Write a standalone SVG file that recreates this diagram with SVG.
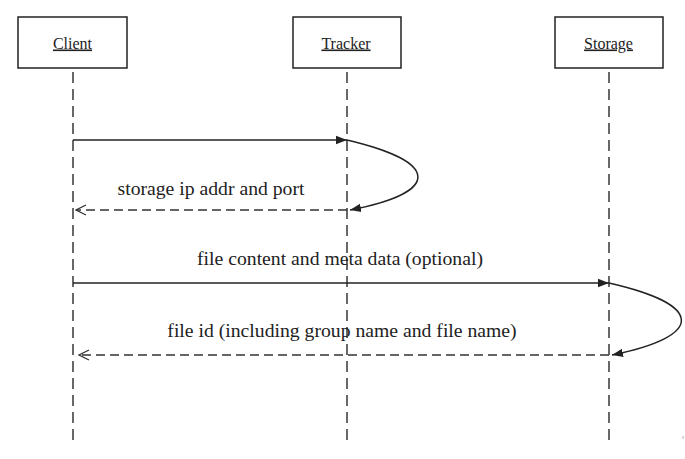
<svg xmlns="http://www.w3.org/2000/svg" width="685" height="459" viewBox="0 0 685 459">
<defs>
<marker id="filled" viewBox="0 0 11 10" refX="11" refY="5" markerWidth="11" markerHeight="10" markerUnits="userSpaceOnUse" orient="auto">
<path d="M0,0.8 L11,5 L0,9.2 Z" fill="#222"/>
</marker>
<marker id="open" viewBox="0 0 12 12" refX="11" refY="6" markerWidth="12" markerHeight="12" markerUnits="userSpaceOnUse" orient="auto">
<path d="M1,1 L11,6 L1,11" fill="none" stroke="#333" stroke-width="1.3"/>
</marker>
<style>
.box{fill:#fff;stroke:#222;stroke-width:1.5}
.life{stroke:#444;stroke-width:1.6;stroke-dasharray:11 6;fill:none}
.head{font-family:"Liberation Serif","Times New Roman",serif;font-size:16px;fill:#222;text-anchor:middle;text-decoration:underline}
.msg{font-family:"Liberation Serif","Times New Roman",serif;font-size:19.7px;fill:#222;text-anchor:middle}
.solid{stroke:#222;stroke-width:1.5;fill:none}
.dash{stroke:#333;stroke-width:1.5;fill:none;stroke-dasharray:9 5}
</style>
</defs>
<rect width="685" height="459" fill="#fff"/>
<g id="lifelines">
<line class="life" x1="73" y1="72" x2="73" y2="444"/>
<line class="life" x1="347" y1="72" x2="347" y2="444"/>
<line class="life" x1="609" y1="72" x2="609" y2="444"/>
</g>
<g id="client">
<rect class="box" x="18" y="17" width="109" height="51"/>
<text class="head" x="72.5" y="48.5">Client</text>
</g>
<g id="tracker">
<rect class="box" x="293" y="17" width="108" height="51"/>
<text class="head" x="346" y="48.5">Tracker</text>
</g>
<g id="storage">
<rect class="box" x="555" y="17" width="108" height="51"/>
<text class="head" x="608.5" y="48.5">Storage</text>
</g>
<g id="connectors">
<line class="solid" x1="73" y1="140" x2="347" y2="140" marker-end="url(#filled)"/>
<path class="solid" d="M347,140 C440,162 442,192 350,210" marker-end="url(#filled)"/>
<line class="dash" x1="347" y1="210" x2="76" y2="210" marker-end="url(#open)"/>
<line class="solid" x1="73" y1="283" x2="609" y2="283" marker-end="url(#filled)"/>
<path class="solid" d="M609,283 C705,305 705,336 612,355" marker-end="url(#filled)"/>
<line class="dash" x1="609" y1="355" x2="79" y2="355" marker-end="url(#open)"/>
</g>
<g id="labels">
<text class="msg" x="211" y="195">storage ip addr and port</text>
<text class="msg" x="340" y="265">file content and meta data (optional)</text>
<text class="msg" x="342" y="337">file id (including group name and file name)</text>
<text x="683" y="440" font-family="Liberation Sans, sans-serif" font-size="8" fill="#999" text-anchor="middle">‹</text>
</g>
</svg>
